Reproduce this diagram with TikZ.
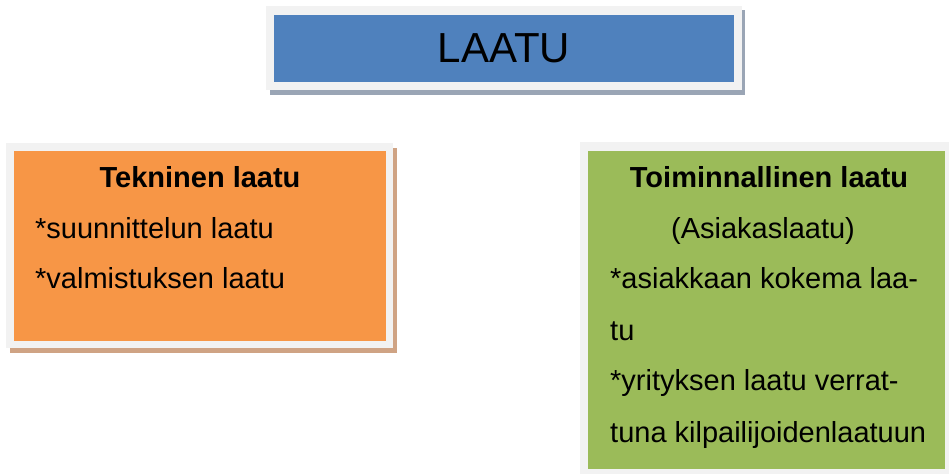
\documentclass[tikz,border=0pt]{standalone}
\usepackage{fontspec}
\setmainfont{Liberation Sans}
\definecolor{boxblue}{HTML}{4F81BD}
\definecolor{boxorange}{HTML}{F79646}
\definecolor{boxgreen}{HTML}{9BBB59}
\definecolor{framegray}{HTML}{F2F2F2}
\definecolor{blueshadow}{HTML}{9AA5B5}
\definecolor{orangeshadow}{HTML}{CFA384}
\begin{document}
\begin{tikzpicture}[x=1pt,y=-1pt,
  inner/.style={inner sep=0pt, outer sep=0pt},
  bodytext/.style={inner sep=0pt, font=\fontsize{29}{35}\selectfont},
  headtext/.style={inner sep=0pt, font=\fontsize{29}{35}\selectfont\bfseries}]
\useasboundingbox (0,0) rectangle (949,474);
\fill[white] (0,0) rectangle (949,474);
% top box
\fill[blueshadow] (270,10) rectangle (745,95);
\fill[framegray] (266,6) rectangle (742,90);
\node[inner, fill=boxblue, minimum width=460pt, minimum height=67pt,
      font=\fontsize{42}{50}\selectfont] (laatu) at (504,48.5) {LAATU};
% left box
\fill[orangeshadow] (10,148) rectangle (397,353);
\fill[framegray] (6,143) rectangle (393,348);
\node[inner, fill=boxorange, minimum width=372pt, minimum height=190pt] (tekn) at (200,246) {};
\node[headtext, anchor=base] (teknhead) at (200,187) {Tekninen laatu};
\node[bodytext, anchor=base west] (tekn1) at (35,238) {*suunnittelun laatu};
\node[bodytext, anchor=base west] (tekn2) at (35,288) {*valmistuksen laatu};
% right box
\fill[framegray] (580,142) rectangle (949,474);
\node[inner, fill=boxgreen, minimum width=357pt, minimum height=318pt] (toim) at (766.5,310) {};
\node[headtext, anchor=base] (toimhead) at (769,187) {Toiminnallinen laatu};
\node[bodytext, anchor=base] (toim0) at (763,238) {(Asiakaslaatu)};
\node[bodytext, anchor=base west] (toim1) at (610,288) {*asiakkaan kokema laa-};
\node[bodytext, anchor=base west] (toim2) at (610,340) {tu};
\node[bodytext, anchor=base west] (toim3) at (610,390) {*yrityksen laatu verrat-};
\node[bodytext, anchor=base west] (toim4) at (610,442) {tuna kilpailijoidenlaatuun};
\end{tikzpicture}
\end{document}
